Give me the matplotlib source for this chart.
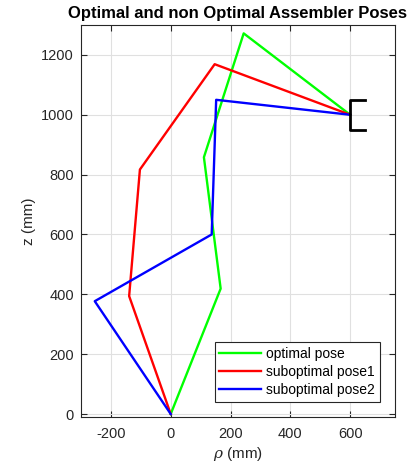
import matplotlib.pyplot as plt

plt.rcParams['font.family'] = ['Liberation Sans', 'DejaVu Sans']
plt.rcParams['mathtext.fontset'] = 'dejavuserif'
plt.rcParams['axes.unicode_minus'] = False

# Позы (rho, z) в мм
opt_rho = [0, 167, 111, 244, 600]
opt_z = [0, 419, 858, 1272, 1000]
sub1_rho = [0, -139, -103, 147, 600]
sub1_z = [0, 394, 817, 1169, 1000]
sub2_rho = [0, -254, 137, 152, 600]
sub2_z = [0, 377, 600, 1050, 1000]

# скоба на конце
grip_rho = [650, 600, 600, 650]
grip_z = [1050, 1050, 950, 950]

fig = plt.figure(figsize=(4.16, 4.69), dpi=100)
ax = fig.add_axes([81/416, 1 - 417/469, 314/416, 392/469])

ax.plot(opt_rho, opt_z, color='#00ff00', lw=1.7, label='optimal pose')
ax.plot(sub1_rho, sub1_z, color='#ff0000', lw=1.7, label='suboptimal pose1')
ax.plot(sub2_rho, sub2_z, color='#0000ff', lw=1.7, label='suboptimal pose2')
ax.plot(grip_rho, grip_z, color='k', lw=2)

ax.set_xlim(-300, 750)
ax.set_ylim(-10, 1300)
ax.set_xticks([-200, 0, 200, 400, 600])
ax.set_yticks([0, 200, 400, 600, 800, 1000, 1200])
ax.grid(True, color='#e0e0e0', lw=0.8)
ax.set_axisbelow(True)
ax.tick_params(direction='in', top=True, right=True, labelsize=10.5,
               colors='#262626', length=4)
ax.tick_params(axis='x', pad=7)
ax.tick_params(axis='y', pad=5)
for s in ax.spines.values():
    s.set_color('#262626')
    s.set_linewidth(0.8)

ax.set_xlabel(r'$\rho$ (mm)', fontsize=11, color='#262626', labelpad=3)
ax.set_ylabel('z (mm)', fontsize=11, color='#262626')
ax.set_title('Optimal and non Optimal Assembler Poses', fontsize=12,
             fontweight='bold', pad=5)

leg = ax.legend(loc='lower right', fontsize=10, fancybox=False,
                framealpha=1, edgecolor='#262626', handlelength=3.0,
                handletextpad=0.35, borderaxespad=1.1, labelspacing=0.3,
                borderpad=0.35)
leg.get_frame().set_linewidth(0.8)

plt.savefig('out.png', dpi=100)
plt.close()
